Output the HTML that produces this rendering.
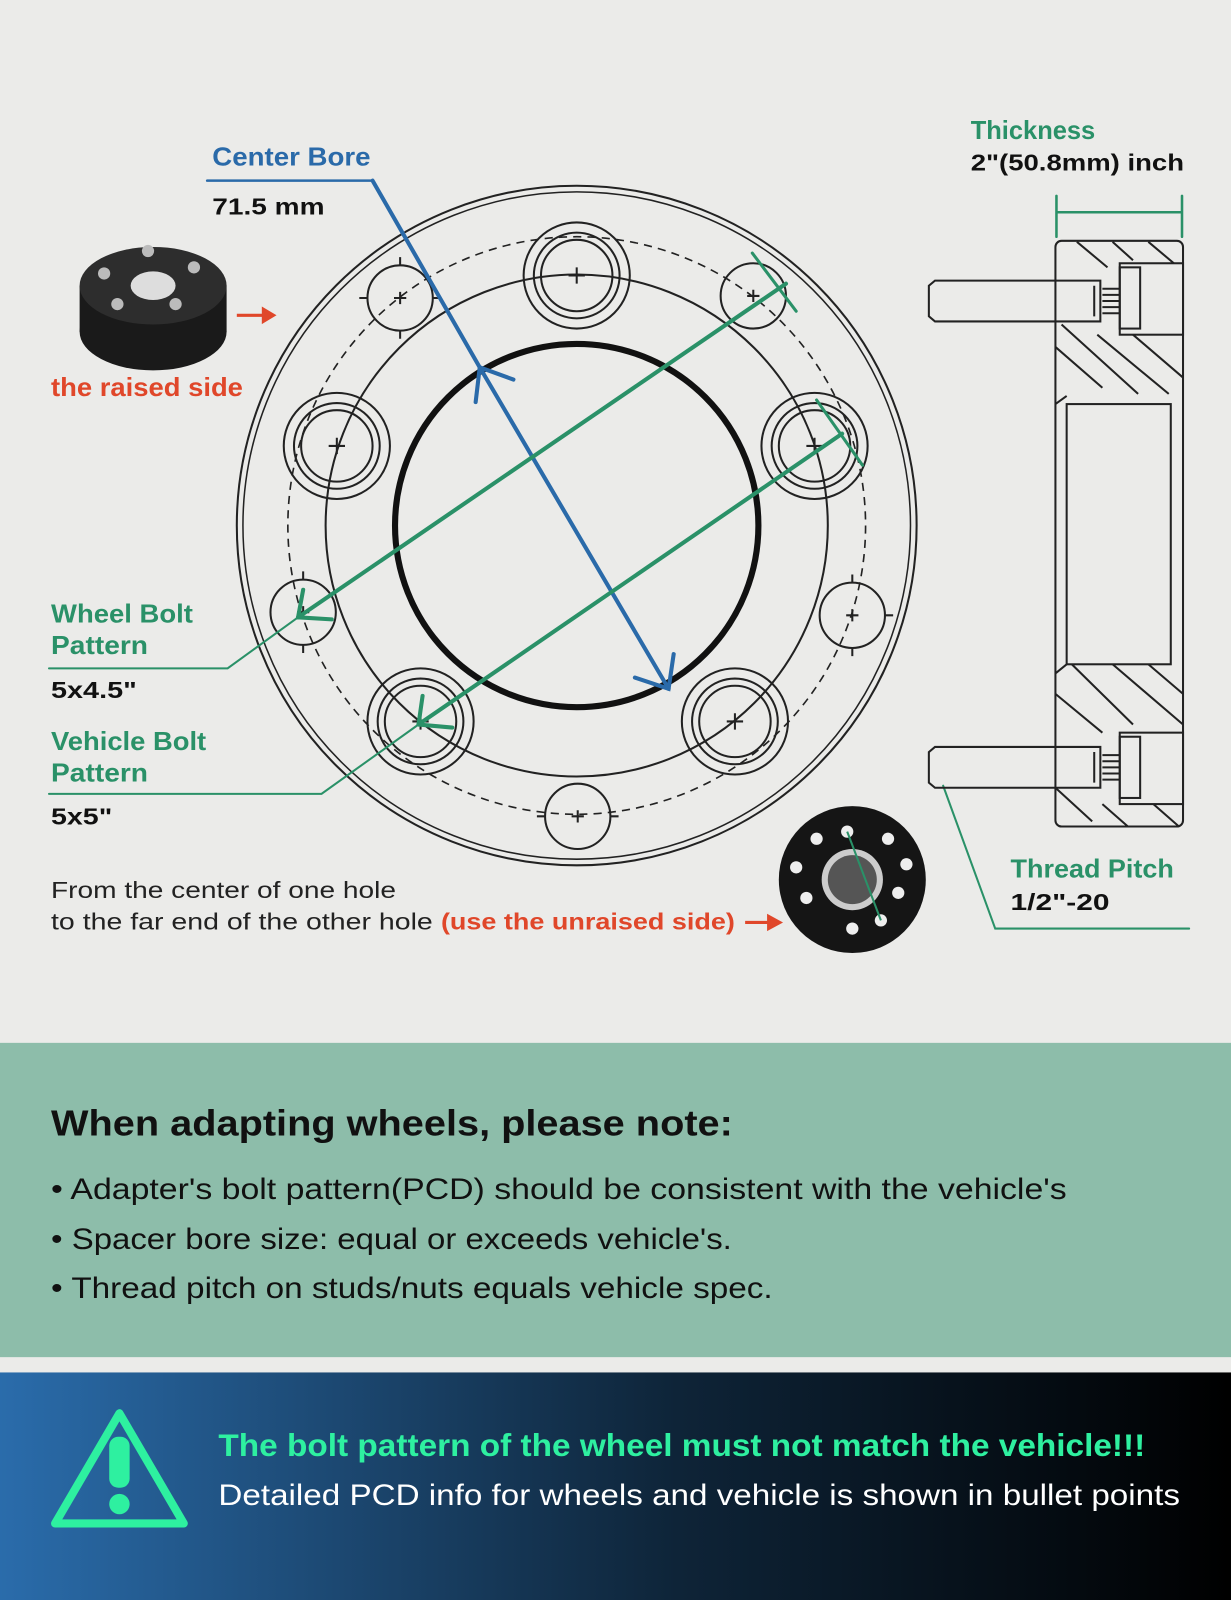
<!DOCTYPE html>
<html><head><meta charset="utf-8"><style>
html,body{margin:0;padding:0;width:1231px;height:1600px;overflow:hidden;background:#ebebe9}
svg{display:block}
text{font-family:"Liberation Sans",sans-serif}
</style></head><body>
<svg width="1231" height="1600" viewBox="0 0 1206 1568" preserveAspectRatio="none" xmlns="http://www.w3.org/2000/svg">
<defs>
<linearGradient id="bg" x1="0" x2="1" y1="0" y2="0">
<stop offset="0" stop-color="#2a6cab"/><stop offset="0.55" stop-color="#0e2438"/><stop offset="1" stop-color="#000"/>
</linearGradient>
</defs>
<rect width="1206" height="1568" fill="#ebebe9"/>
<rect y="1022" width="1206" height="308" fill="#8dbdaa"/>
<rect y="1345" width="1206" height="223" fill="url(#bg)"/>

<g fill="none" stroke="#222" stroke-width="2">
<circle cx="565" cy="515" r="333"/>
<circle cx="565" cy="515" r="327" stroke-width="1.5"/>
<circle cx="565" cy="515" r="246"/>
<circle cx="565" cy="515" r="283" stroke-dasharray="8 6" stroke-width="1.6"/>
<circle cx="565" cy="515" r="178" stroke-width="6" stroke="#111"/>
</g>
<g fill="none" stroke="#222" stroke-width="2">
<g transform="translate(565,270)"><circle r="52"/><circle r="42"/><circle r="35"/><path d="M-8 0H8M0-8V8"/></g>
<g transform="translate(330,437)"><circle r="52"/><circle r="42"/><circle r="35"/><path d="M-8 0H8M0-8V8"/></g>
<g transform="translate(412,707)"><circle r="52"/><circle r="42"/><circle r="35"/><path d="M-8 0H8M0-8V8"/></g>
<g transform="translate(720,707)"><circle r="52"/><circle r="42"/><circle r="35"/><path d="M-8 0H8M0-8V8"/></g>
<g transform="translate(798,437)"><circle r="52"/><circle r="42"/><circle r="35"/><path d="M-8 0H8M0-8V8"/></g>
<g transform="translate(392,292)"><circle r="32"/><path d="M-6 0H6M0-6V6M-40 0h8M32 0h8M0-40v8M0 32v8"/></g>
<g transform="translate(738,290)"><circle r="32"/><path d="M-6 0H6M0-6V6"/></g>
<g transform="translate(297,600)"><circle r="32"/><path d="M-6 0H6M0-6V6M0-40v8M0 32v8"/></g>
<g transform="translate(835,603)"><circle r="32"/><path d="M-6 0H6M0-6V6M0-40v8M0 32v8M32 0h8"/></g>
<g transform="translate(566,800)"><circle r="32"/><path d="M-6 0H6M0-6V6M-40 0h8M32 0h8"/></g>
</g>

<g stroke="#2a6aa9" stroke-width="4" fill="none" stroke-linecap="round">
<path d="M365 177 L470 360"/>
<path d="M470 360 L655 675"/>
<path d="M466 394 L470 360 L503 372"/>
<path d="M622 664 L655 675 L660 641"/>
<path d="M203 177 H365" stroke-width="2.5"/>
</g>
<g stroke="#2a9168" stroke-width="4" fill="none" stroke-linecap="round">
<path d="M292 605 L770 278"/>
<path d="M737 248 L780 305" stroke-width="3"/>
<path d="M297 578 L292 605 L325 607"/>
<path d="M410 710 L825 425"/>
<path d="M800 392 L845 456" stroke-width="3"/>
<path d="M414 682 L410 710 L443 713"/>
<path d="M48 655 H223 L292 605" stroke-width="2"/>
<path d="M48 778 H315 L410 710" stroke-width="2"/>
<path d="M1035 192 V232 M1158 192 V232 M1035 208 H1158" stroke-width="2.5"/>
<path d="M924 770 L975 910 H1165" stroke-width="2"/>
</g>

<g fill="none" stroke="#222" stroke-width="2">
<rect x="1034" y="236" width="125" height="574" rx="6"/>
<rect x="1045" y="396" width="102" height="255"/>
<path d="M1034 396 L1045 388 M1034 660 L1045 651"/>
<rect x="1097" y="258" width="62" height="70"/><rect x="1097" y="262" width="20" height="60"/>
<rect x="1097" y="718" width="62" height="70"/><rect x="1097" y="722" width="20" height="60"/>
<path d="M916 275 H1078 V315 H916 L910 310 V280 Z"/>
<path d="M916 732 H1078 V772 H916 L910 767 V737 Z"/>
<path d="M1072 280 V310 M1072 737 V767"/>
<path d="M1080 283H1097M1080 289H1097M1080 295H1097M1080 301H1097M1080 307H1097M1080 740H1097M1080 746H1097M1080 752H1097M1080 758H1097M1080 764H1097"/>
<path d="M1055 237 L1085 262 M1090 237 L1110 255 M1125 237 L1150 258 M1034 340 L1080 380 M1040 318 L1115 386 M1075 328 L1145 386 M1110 328 L1159 370 M1034 680 L1080 718 M1050 651 L1110 710 M1090 651 L1159 710 M1125 651 L1159 680 M1034 772 L1070 805 M1080 788 L1105 810 M1130 788 L1155 810"/>
</g>

<g>
<ellipse cx="150" cy="325" rx="72" ry="38" fill="#1a1a1a"/>
<rect x="78" y="280" width="144" height="45" fill="#1a1a1a"/>
<ellipse cx="150" cy="280" rx="72" ry="38" fill="#2d2d2d"/>
<ellipse cx="150" cy="280" rx="22" ry="14" fill="#ddd"/>
<circle cx="102" cy="268" r="6" fill="#bbb"/><circle cx="145" cy="246" r="6" fill="#bbb"/><circle cx="190" cy="262" r="6" fill="#bbb"/><circle cx="172" cy="298" r="6" fill="#bbb"/><circle cx="115" cy="298" r="6" fill="#bbb"/>
<circle cx="835" cy="862" r="72" fill="#151515"/>
<circle cx="835" cy="862" r="30" fill="#ccc"/><circle cx="835" cy="862" r="24" fill="#555"/>
<circle cx="800" cy="822" r="6" fill="#eee"/><circle cx="870" cy="822" r="6" fill="#eee"/><circle cx="880" cy="875" r="6" fill="#eee"/><circle cx="790" cy="880" r="6" fill="#eee"/><circle cx="835" cy="910" r="6" fill="#eee"/>
<circle cx="830" cy="815" r="6" fill="#eee"/><circle cx="863" cy="902" r="6" fill="#eee"/><circle cx="780" cy="850" r="6" fill="#eee"/><circle cx="888" cy="847" r="6" fill="#eee"/>
<path d="M830 815 L863 902" stroke="#2a9168" stroke-width="2"/>
</g>
<g stroke="#e0472a" stroke-width="3" fill="#e0472a">
<path d="M232 309 H258"/><path d="M258 303 L268 309 L258 315Z"/>
<path d="M730 904 H755"/><path d="M753 898 L764 904 L753 910Z"/>
</g>

<g lengthAdjust="spacingAndGlyphs">
<text x="208" y="162" font-size="25" font-weight="bold" fill="#2a6aa9" textLength="155" lengthAdjust="spacingAndGlyphs">Center Bore</text>
<text x="208" y="210" font-size="23" font-weight="bold" fill="#111" textLength="110" lengthAdjust="spacingAndGlyphs">71.5 mm</text>
<text x="951" y="136" font-size="25" font-weight="bold" fill="#2a9168" textLength="122" lengthAdjust="spacingAndGlyphs">Thickness</text>
<text x="951" y="167" font-size="23" font-weight="bold" fill="#111" textLength="209" lengthAdjust="spacingAndGlyphs">2"(50.8mm) inch</text>
<text x="50" y="388" font-size="25" font-weight="bold" fill="#e0472a" textLength="188" lengthAdjust="spacingAndGlyphs">the raised side</text>
<text x="50" y="610" font-size="25" font-weight="bold" fill="#2a9168" textLength="139" lengthAdjust="spacingAndGlyphs">Wheel Bolt</text>
<text x="50" y="641" font-size="25" font-weight="bold" fill="#2a9168" textLength="95" lengthAdjust="spacingAndGlyphs">Pattern</text>
<text x="50" y="684" font-size="23" font-weight="bold" fill="#111" textLength="84" lengthAdjust="spacingAndGlyphs">5x4.5"</text>
<text x="50" y="735" font-size="25" font-weight="bold" fill="#2a9168" textLength="152" lengthAdjust="spacingAndGlyphs">Vehicle Bolt</text>
<text x="50" y="766" font-size="25" font-weight="bold" fill="#2a9168" textLength="95" lengthAdjust="spacingAndGlyphs">Pattern</text>
<text x="50" y="808" font-size="23" font-weight="bold" fill="#111" textLength="60" lengthAdjust="spacingAndGlyphs">5x5"</text>
<text x="990" y="860" font-size="25" font-weight="bold" fill="#2a9168" textLength="160" lengthAdjust="spacingAndGlyphs">Thread Pitch</text>
<text x="990" y="892" font-size="23" font-weight="bold" fill="#111" textLength="97" lengthAdjust="spacingAndGlyphs">1/2"-20</text>
<text x="50" y="880" font-size="23" fill="#222" textLength="338" lengthAdjust="spacingAndGlyphs">From the center of one hole</text>
<text x="50" y="911" font-size="23" fill="#222" textLength="374" lengthAdjust="spacingAndGlyphs">to the far end of the other hole</text>
<text x="432" y="911" font-size="23" font-weight="bold" fill="#e0472a" textLength="288" lengthAdjust="spacingAndGlyphs">(use the unraised side)</text>

<text x="50" y="1113" font-size="35" font-weight="bold" fill="#111" textLength="668" lengthAdjust="spacingAndGlyphs">When adapting wheels, please note:</text>
<text x="50" y="1175" font-size="29" fill="#111" textLength="995" lengthAdjust="spacingAndGlyphs">• Adapter's bolt pattern(PCD) should be consistent with the vehicle's</text>
<text x="50" y="1224" font-size="29" fill="#111" textLength="667" lengthAdjust="spacingAndGlyphs">• Spacer bore size: equal or exceeds vehicle's.</text>
<text x="50" y="1272" font-size="29" fill="#111" textLength="707" lengthAdjust="spacingAndGlyphs">• Thread pitch on studs/nuts equals vehicle spec.</text>

<g stroke="#2ef0a0" stroke-width="8" fill="none" stroke-linejoin="round">
<path d="M117 1385 L180 1493 H54 Z"/>
</g>
<rect x="107" y="1408" width="20" height="50" rx="9" fill="#2ef0a0"/>
<circle cx="117" cy="1474" r="10" fill="#2ef0a0"/>
<text x="214" y="1427" font-size="31" font-weight="bold" fill="#2ef0a0" textLength="908" lengthAdjust="spacingAndGlyphs">The bolt pattern of the wheel must not match the vehicle!!!</text>
<text x="214" y="1475" font-size="29" fill="#fff" textLength="942" lengthAdjust="spacingAndGlyphs">Detailed PCD info for wheels and vehicle is shown in bullet points</text>
</g>
</svg>
</body></html>
